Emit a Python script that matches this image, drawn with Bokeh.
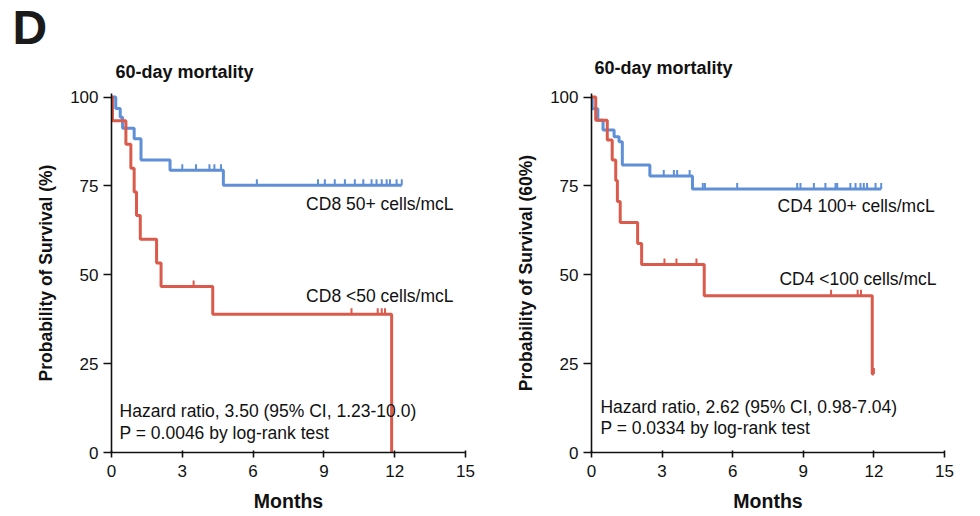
import math
from bokeh.plotting import figure
from bokeh.models import Range1d, Label, Title
from bokeh.layouts import row
from bokeh.embed import file_html
from bokeh.resources import INLINE

# ---------------- data ----------------
x_ticks = [0, 3, 6, 9, 12, 15]
y_ticks = [0, 25, 50, 75, 100]

# Left panel: CD8
cd8_hi_t = [0, 0.18, 0.37, 0.47, 0.96, 1.25, 2.48, 4.74, 12.3]
cd8_hi_s = [100, 96.8, 94.3, 91.2, 88.3, 82.3, 79.4, 75.2, 75.2]
cd8_hi_cens_t = [3.0, 3.58, 4.15, 4.36, 4.64,
                 6.16, 8.75, 9.04, 9.46, 9.89, 10.31, 10.67, 11.02, 11.23, 11.45, 11.66, 11.8, 12.08, 12.3]
cd8_hi_cens_s = [79.4] * 5 + [75.2] * 14

cd8_lo_t = [0, 0.04, 0.61, 0.82, 0.96, 1.06, 1.22, 1.91, 2.1, 4.29, 11.87]
cd8_lo_s = [100, 93.3, 86.7, 80.0, 73.3, 66.7, 60.0, 53.3, 46.7, 38.9, 0]
cd8_lo_cens_t = [3.48, 10.17, 11.28, 11.45, 11.59]
cd8_lo_cens_s = [46.7, 38.9, 38.9, 38.9, 38.9]

# Right panel: CD4
cd4_hi_t = [0, 0.03, 0.27, 0.49, 0.96, 1.17, 1.31, 2.48, 4.29, 12.31]
cd4_hi_s = [100, 96.7, 93.5, 90.7, 88.8, 87.4, 80.9, 77.8, 74.1, 74.1]
cd4_hi_cens_t = [3.07, 3.5, 3.64, 4.17,
                 4.73, 4.82, 6.19, 8.74, 8.88, 9.45, 9.94, 10.37, 10.44, 11.0, 11.22, 11.43, 11.57, 11.71, 12.07, 12.31]
cd4_hi_cens_s = [77.8] * 4 + [74.1] * 16

cd4_lo_t = [0, 0.18, 0.67, 0.88, 1.03, 1.1, 1.22, 1.96, 2.13, 4.79, 11.93, 12.0]
cd4_lo_s = [100, 93.5, 87.9, 82.3, 76.5, 70.6, 64.7, 58.8, 52.9, 44.1, 22.1, 22.1]
cd4_lo_cens_t = [3.1, 3.61, 4.46, 10.18, 11.31, 11.45, 12.0]
cd4_lo_cens_s = [52.9, 52.9, 52.9, 44.1, 44.1, 44.1, 22.1]

BLUE = "#5F8FD6"
RED = "#DA5A4C"
FONT = "Liberation Sans"
INK = "#111111"


def panel(width, border_left, border_right, border_top, border_bottom, ylabel,
          hi, lo, texts, title_offset, title_standoff, letter=None):
    p = figure(width=width, height=516, output_backend="svg", toolbar_location=None,
               x_range=Range1d(0, 15), y_range=Range1d(0, 101))
    p.min_border_left = border_left
    p.min_border_right = border_right
    p.min_border_top = border_top
    p.min_border_bottom = border_bottom
    p.outline_line_color = None
    p.xgrid.visible = False
    p.ygrid.visible = False
    p.background_fill_color = "white"
    p.border_fill_color = "white"

    p.xaxis.ticker = x_ticks
    p.yaxis.ticker = y_ticks
    for ax in (p.xaxis[0], p.yaxis[0]):
        ax.axis_line_color = INK
        ax.axis_line_width = 1.6
        ax.major_tick_line_color = INK
        ax.major_tick_line_width = 1.6
        ax.minor_tick_line_color = None
        ax.major_label_text_font = FONT
        ax.major_label_text_font_size = "17px"
        ax.major_label_text_color = INK
        ax.axis_label_text_font = FONT
        ax.axis_label_text_font_style = "bold"
        ax.axis_label_text_color = INK
    p.xaxis.major_tick_in = 2
    p.xaxis.major_tick_out = 5
    p.xaxis.major_label_standoff = 7
    p.xaxis.axis_label = "Months"
    p.xaxis.axis_label_text_font_size = "19.5px"
    p.xaxis.axis_label_standoff = 10
    p.yaxis.major_tick_in = 0
    p.yaxis.major_tick_out = 8
    p.yaxis.major_label_standoff = 5
    p.yaxis.axis_label = ylabel
    p.yaxis.axis_label_text_font_size = "17.5px"
    p.yaxis.axis_label_standoff = 11

    for (t, s, ct, cs), col in ((hi, BLUE), (lo, RED)):
        p.step(t, s, mode="after", line_color=col, line_width=3)
        p.ray(x=ct, y=cs, length=6, angle=math.pi / 2, length_units="screen",
              line_color=col, line_width=2)

    for (tx, ty, txt, align) in texts:
        p.add_layout(Label(x=tx, y=ty, text=txt, text_font=FONT, text_font_size="17.5px",
                           text_align=align, text_baseline="middle", text_color=INK))

    p.add_layout(Title(text="60-day mortality", text_font=FONT, text_font_size="18px",
                       text_font_style="bold", text_color=INK, align="left",
                       offset=title_offset, standoff=title_standoff), "above")
    if letter is not None:
        p.add_layout(Title(text=letter, text_font=FONT, text_font_size="48px",
                           text_font_style="bold", text_color="#1a1a1a", align="left",
                           text_line_height=0.8, offset=-99, standoff=-10), "above")
    return p


left = panel(477, 111, 12, 93, 64, "Probability of Survival (%)",
             (cd8_hi_t, cd8_hi_s, cd8_hi_cens_t, cd8_hi_cens_s),
             (cd8_lo_t, cd8_lo_s, cd8_lo_cens_t, cd8_lo_cens_s),
             [(14.49, 70.0, "CD8 50+ cells/mcL", "right"),
              (14.49, 43.9, "CD8 <50 cells/mcL", "right"),
              (0.34, 11.8, "Hazard ratio, 3.50 (95% CI, 1.23-10.0)", "left"),
              (0.34, 5.6, "P = 0.0046 by log-rank test", "left")],
             4, 23, letter="D")

right = panel(487, 114, 20, 93, 62, "Probability of Survival (60%)",
              (cd4_hi_t, cd4_hi_s, cd4_hi_cens_t, cd4_hi_cens_s),
              (cd4_lo_t, cd4_lo_s, cd4_lo_cens_t, cd4_lo_cens_s),
              [(14.58, 69.4, "CD4 100+ cells/mcL", "right"),
               (14.66, 48.9, "CD4 <100 cells/mcL", "right"),
               (0.38, 12.9, "Hazard ratio, 2.62 (95% CI, 0.98-7.04)", "left"),
               (0.38, 7.0, "P = 0.0334 by log-rank test", "left")],
              3, 31)

layout = row(left, right)
open("out.html", "w").write(file_html(layout, INLINE))
